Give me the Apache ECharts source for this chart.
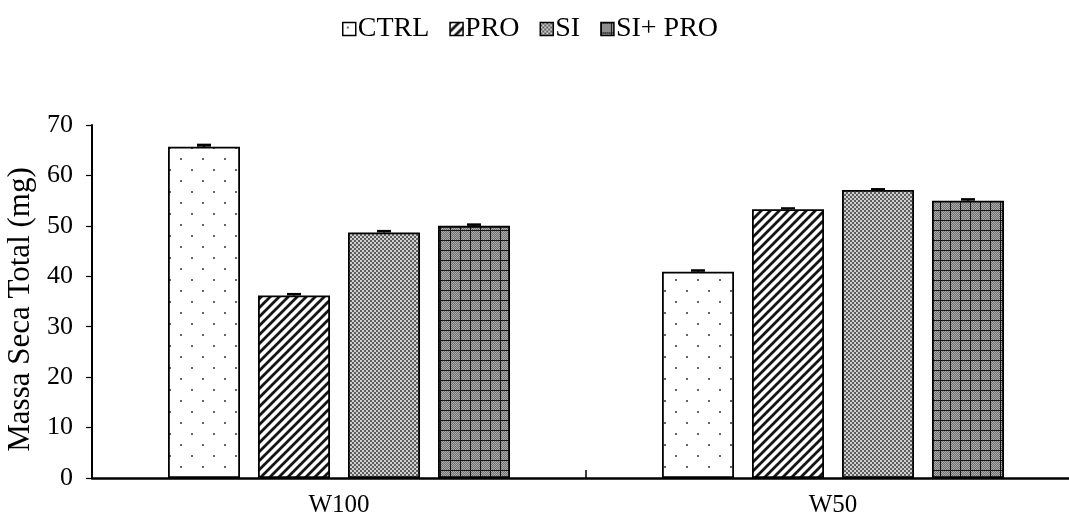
<!DOCTYPE html>
<html>
<head>
<meta charset="utf-8">
<script src="https://cdn.jsdelivr.net/npm/echarts@6/dist/echarts.min.js"></script>
<style>
  html, body { margin: 0; padding: 0; background: #fff; overflow: hidden; }
  #chart { width: 1069px; height: 519px; }
</style>
</head>
<body>
<div id="chart"></div>
<script>
// Treatments (legend) and water regimes (x axis)
const categories = ['W100', 'W50'];
const seriesNames = ['CTRL', 'PRO', 'SI', 'SI+ PRO'];

// Total dry mass (mg) per treatment, in category order
const ctrlValues = [65.7, 40.9];
const proValues = [36.2, 53.3];
const siValues = [48.7, 57.1];
const siProValues = [50.0, 55.0];

// Standard errors
const ctrlErr = [0.4, 0.3];
const proErr = [0.3, 0.2];
const siErr = [0.3, 0.2];
const siProErr = [0.3, 0.3];

const yTicks = [0, 10, 20, 30, 40, 50, 60, 70];

const FONT = '"Liberation Serif", "Times New Roman", serif';
const BAR_W = 72;
const BAR_GAP = 0.25;

// --- fill patterns ---------------------------------------------------------
function tile(w, h, draw) {
  const c = document.createElement('canvas');
  c.width = w; c.height = h;
  draw(c.getContext('2d'), w, h);
  return { image: c, repeat: 'repeat' };
}

// sparse dots on white
const dotFill = tile(22, 22, (g) => {
  g.fillStyle = '#fff'; g.fillRect(0, 0, 22, 22);
  g.fillStyle = '#666';
  g.fillRect(4, 4, 2, 2);
  g.fillRect(15, 15, 2, 2);
});

// diagonal "/" stripes
const stripeFill = tile(9, 9, (g, w, h) => {
  g.fillStyle = '#fff'; g.fillRect(0, 0, w, h);
  g.strokeStyle = '#151515';
  g.lineWidth = 2.8;
  g.beginPath();
  for (let k = -1; k <= 1; k++) {
    g.moveTo(-2 + k * w, h + 2);
    g.lineTo(w + 2 + k * w, -2);
  }
  g.stroke();
});

// fine checker
const checkFill = tile(4, 4, (g) => {
  g.fillStyle = '#5e5e5e'; g.fillRect(0, 0, 4, 4);
  g.fillStyle = '#cfcfcf';
  g.fillRect(0, 0, 2, 2);
  g.fillRect(2, 2, 2, 2);
});

// grey checker with a black grid
const gridFill = tile(10, 10, (g) => {
  for (let y = 0; y < 10; y += 2) {
    for (let x = 0; x < 10; x += 2) {
      g.fillStyle = '#727272'; g.fillRect(x, y, 2, 2);
      g.fillStyle = '#ababab'; g.fillRect(x, y, 1, 1);
      g.fillRect(x + 1, y + 1, 1, 1);
    }
  }
  g.fillStyle = '#151515';
  g.fillRect(0, 0, 10, 1);
  g.fillRect(0, 0, 1, 10);
});

const fills = [dotFill, stripeFill, checkFill, gridFill];
const valueSets = [ctrlValues, proValues, siValues, siProValues];
const errSets = [ctrlErr, proErr, siErr, siProErr];

const barSeries = seriesNames.map((name, i) => ({
  name,
  type: 'bar',
  data: valueSets[i],
  barWidth: BAR_W,
  barGap: (BAR_GAP * 100) + '%',
  itemStyle: { color: fills[i], borderColor: '#000', borderWidth: 1.8 },
  emphasis: { disabled: true },
  z: 2
}));

// error bars: a short upward whisker with a cap on each bar
const errSeries = seriesNames.map((name, i) => ({
  type: 'custom',
  name: name + ' err',
  data: valueSets[i].map((v, j) => [j, v, errSets[i][j]]),
  z: 5,
  silent: true,
  renderItem(params, api) {
    const step = BAR_W * (1 + BAR_GAP);
    const off = (i - 1.5) * step;
    const base = api.coord([api.value(0), api.value(1)]);
    const top = api.coord([api.value(0), api.value(1) + api.value(2)]);
    const x = base[0] + off;
    const half = 7;
    const style = { stroke: '#000', lineWidth: 2 };
    return {
      type: 'group',
      children: [
        { type: 'line', shape: { x1: x, y1: base[1], x2: x, y2: top[1] }, style },
        { type: 'line', shape: { x1: x - half, y1: top[1], x2: x + half, y2: top[1] }, style },
        { type: 'rect', shape: { x: x - half, y: top[1], width: half * 2, height: Math.max(base[1] - top[1], 1) }, style: { fill: '#000' } }
      ]
    };
  }
}));

const chart = echarts.init(document.getElementById('chart'), null, { renderer: 'canvas' });
chart.setOption({
  animation: false,
  backgroundColor: '#fff',
  textStyle: { fontFamily: FONT },
  legend: {
    data: seriesNames,
    top: 10,
    left: 337,
    icon: 'rect',
    itemWidth: 13,
    itemHeight: 13,
    itemGap: 20,
    itemStyle: { borderColor: '#000', borderWidth: 1.5 },
    textStyle: { fontFamily: FONT, fontSize: 28, color: '#000', padding: [0, 0, 0, -3] }
  },
  grid: { left: 92, top: 125, width: 988, height: 353, outerBoundsMode: 'none', containLabel: false },
  xAxis: {
    type: 'category',
    data: categories,
    axisLine: { lineStyle: { color: '#000', width: 2.5 } },
    axisTick: { show: true, inside: true, length: 8, lineStyle: { color: '#000', width: 1.5 } },
    axisLabel: { fontFamily: FONT, fontSize: 25, color: '#000', margin: 15 }
  },
  yAxis: {
    type: 'value',
    min: yTicks[0],
    max: yTicks[yTicks.length - 1],
    interval: yTicks[1] - yTicks[0],
    name: 'Massa Seca Total (mg)',
    nameLocation: 'middle',
    nameGap: 51,
    nameTextStyle: { fontFamily: FONT, fontSize: 31, color: '#000', padding: [0, 16, 0, 0] },
    axisLine: { show: true, lineStyle: { color: '#000', width: 2 } },
    axisTick: { show: true, length: 6, lineStyle: { color: '#000', width: 1.2 } },
    axisLabel: { fontFamily: FONT, fontSize: 26, color: '#000', margin: 19 },
    splitLine: { show: false }
  },
  series: [...barSeries, ...errSeries]
});
</script>
</body>
</html>
